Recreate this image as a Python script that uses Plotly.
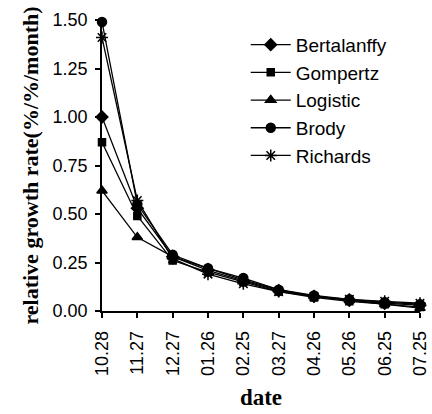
import plotly.graph_objects as go

dates = ["10.28", "11.27", "12.27", "01.26", "02.25", "03.27", "04.26", "05.26", "06.25", "07.25"]
bertalanffy = [1.00, 0.53, 0.28, 0.21, 0.155, 0.105, 0.075, 0.055, 0.040, 0.030]
gompertz = [0.87, 0.49, 0.26, 0.20, 0.150, 0.100, 0.070, 0.050, 0.035, 0.020]
logistic = [0.62, 0.38, 0.28, 0.22, 0.160, 0.110, 0.075, 0.055, 0.035, 0.015]
brody = [1.49, 0.55, 0.29, 0.22, 0.170, 0.110, 0.080, 0.060, 0.045, 0.035]
richards = [1.41, 0.57, 0.27, 0.19, 0.140, 0.100, 0.075, 0.060, 0.050, 0.040]

series = [
    ("Bertalanffy", bertalanffy, "diamond", 9),
    ("Gompertz", gompertz, "square", 7),
    ("Logistic", logistic, "triangle-up", 9),
    ("Brody", brody, "circle", 9),
    ("Richards", richards, "asterisk-open", 10),
]

fig = go.Figure()
for name, vals, sym, size in series:
    fig.add_trace(go.Scatter(
        x=list(range(len(dates))), y=vals, name=name, mode="lines+markers",
        line=dict(color="black", width=1.3),
        marker=dict(symbol=sym, size=size, color="black",
                    line=dict(color="black", width=1.5)),
        cliponaxis=False,
    ))

fig.update_layout(
    width=432, height=414,
    margin=dict(l=102, r=12, t=20, b=103),
    paper_bgcolor="white", plot_bgcolor="white",
    font=dict(family="Liberation Sans, Arial", size=18, color="black"),
    showlegend=True,
    legend=dict(x=0.452, y=0.98, xanchor="left", yanchor="top",
                font=dict(size=19, family="Liberation Sans, Arial"),
                bgcolor="rgba(0,0,0,0)", tracegroupgap=0, itemwidth=40),
)
fig.update_xaxes(
    tickmode="array", tickvals=list(range(len(dates))), ticktext=dates,
    range=[0, 9], tickangle=-90, showgrid=False, zeroline=False,
    showline=True, linecolor="black", linewidth=1.5,
    ticks="outside", ticklen=5, tickwidth=1.5, tickcolor="black",
    ticklabelstandoff=6, automargin=False,
    title=dict(text="<b>date</b>", font=dict(family="Liberation Serif, Times New Roman", size=23), standoff=14),
)
fig.update_yaxes(
    range=[0, 1.5], tickvals=[0, 0.25, 0.5, 0.75, 1.0, 1.25, 1.5],
    tickformat=".2f", showgrid=False, zeroline=False,
    showline=True, linecolor="black", linewidth=1.5,
    ticks="outside", ticklen=5, tickwidth=1.5, tickcolor="black",
    ticklabelstandoff=4, automargin=False,
    title=dict(text="<b>relative growth rate(%/%/month)</b>",
               font=dict(family="Liberation Serif, Times New Roman", size=22), standoff=8),
)
fig.write_html("out.html")
